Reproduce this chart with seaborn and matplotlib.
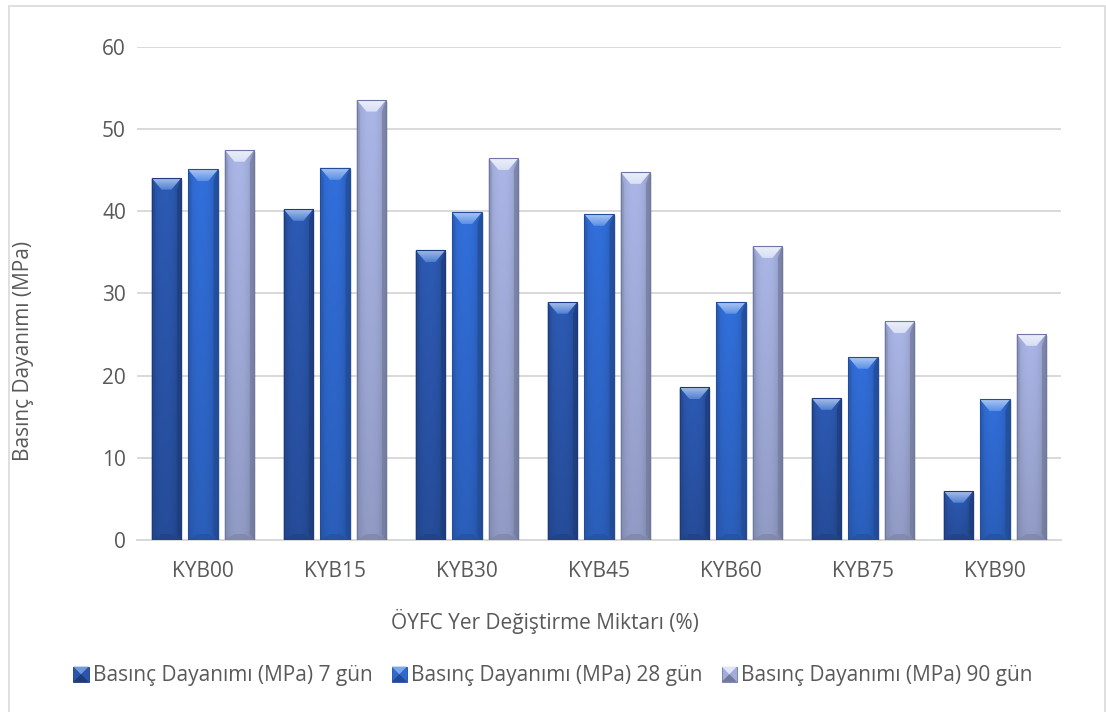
import numpy as np
import pandas as pd
import matplotlib
matplotlib.use("Agg")
import matplotlib.pyplot as plt
import seaborn as sns
from matplotlib.patches import Polygon, Rectangle
from matplotlib.legend_handler import HandlerBase
from matplotlib.colors import to_rgb

# ---- data -------------------------------------------------------------
categories = ["KYB00", "KYB15", "KYB30", "KYB45", "KYB60", "KYB75", "KYB90"]
series_names = [
    "Basınç Dayanımı (MPa) 7 gün",
    "Basınç Dayanımı (MPa) 28 gün",
    "Basınç Dayanımı (MPa) 90 gün",
]
strength_7 = [44.1, 40.3, 35.3, 29.0, 18.6, 17.3, 6.0]
strength_28 = [45.1, 45.3, 39.9, 39.7, 29.0, 22.3, 17.1]
strength_90 = [47.5, 53.6, 46.5, 44.8, 35.8, 26.6, 25.1]
y_ticks = [0, 10, 20, 30, 40, 50, 60]

df = pd.DataFrame({
    "Karışım": categories * 3,
    "Seri": np.repeat(series_names, len(categories)),
    "Değer": strength_7 + strength_28 + strength_90,
})

# ---- style ------------------------------------------------------------
sns.set_style("white")
plt.rcParams["font.family"] = ["Open Sans", "DejaVu Sans"]
TEXT = "#595959"
GRID = "#d9d9d9"
FS = 15

body_colors = ["#2a55aa", "#2f69cf", "#a1acda"]
top_colors = ["#5080d2", "#5a90e6", "#d8dff5"]
edge_colors = ["#1d3b7c", "#204d9e", "#6d77a3"]

W, H = 1106, 712
fig = plt.figure(figsize=(W / 100, H / 100), dpi=100)
ax = fig.add_axes([137 / W, (H - 540) / H, (1061 - 137) / W, (540 - 47) / H])

sns.barplot(data=df, x="Karışım", y="Değer", hue="Seri", order=categories,
            hue_order=series_names, palette=body_colors, width=0.83, gap=0.18,
            ax=ax, legend=False, zorder=3)

ax.set_xlim(-0.5, len(categories) - 0.5)
ax.set_ylim(0, 60)
ax.set_autoscale_on(False)

# pixel size in data units, used for the bevel geometry
p0 = ax.transData.transform((0, 0))
p1 = ax.transData.transform((1, 1))
px_x = 1.0 / (p1[0] - p0[0])
px_y = 1.0 / (p1[1] - p0[1])


def shade(c, f):
    r = np.array(to_rgb(c))
    if f >= 1:
        return tuple(r + (1 - r) * (f - 1))
    return tuple(r * f)


def gradient_image(base, nx=40, ny=200):
    xs = np.linspace(0, 1, nx)
    ys = np.linspace(0, 1, ny)[:, None]  # 0 top .. 1 bottom
    hor = 1 - 0.22 * (np.abs(xs - 0.45) / 0.55) ** 2.5
    ver = 1.06 - 0.16 * ys
    rgb = np.array(to_rgb(base))
    img = rgb[None, None, :] * (hor[None, :] * ver)[:, :, None]
    return np.clip(img, 0, 1)


def top_image(light, ny=30):
    t = np.linspace(0, 1, ny)[:, None, None]  # 0 top .. 1 bottom
    a = np.array(shade(light, 1.5))
    b = np.array(to_rgb(light))
    img = a[None, None, :] * (1 - t) + b[None, None, :] * t
    return np.repeat(np.clip(img, 0, 1), 4, axis=1)


for k, container in enumerate(ax.containers):
    body = body_colors[k]
    for bar in container.patches:
        x0 = bar.get_x()
        w = bar.get_width()
        h = bar.get_height()
        x1 = x0 + w
        bar.set_facecolor("none")
        bar.set_edgecolor("none")

        # soft drop shadow
        ax.add_patch(Rectangle((x0 + 2 * px_x, -2 * px_y), w, h, facecolor="black",
                               alpha=0.10, edgecolor="none", zorder=2.5))

        # shaded body
        im = ax.imshow(gradient_image(body), extent=[x0, x1, 0, h], aspect="auto",
                       interpolation="bilinear", zorder=3.1)
        im.set_clip_path(bar)

        dx = 10 * px_x
        dy = 12 * px_y
        dy_b = min(6 * px_y, h / 3)
        # side bevels
        ax.add_patch(Polygon([(x1, h), (x1 - dx * 0.45, h - dy), (x1 - dx * 0.45, dy_b), (x1, 0)],
                             closed=True, facecolor=shade(body, 0.72), edgecolor="none",
                             alpha=0.7, zorder=3.2))
        ax.add_patch(Polygon([(x0, h), (x0 + dx * 0.35, h - dy), (x0 + dx * 0.35, dy_b), (x0, 0)],
                             closed=True, facecolor=shade(body, 0.85), edgecolor="none",
                             alpha=0.6, zorder=3.2))
        # bottom bevel
        ax.add_patch(Polygon([(x0, 0), (x1, 0), (x1 - dx, dy_b), (x0 + dx, dy_b)],
                             closed=True, facecolor=shade(body, 0.78), edgecolor="none",
                             alpha=0.8, zorder=3.25))
        # top bevel with its own light gradient
        top = Polygon([(x0, h), (x1, h), (x1 - dx, h - dy), (x0 + dx, h - dy)],
                      closed=True, facecolor="none", edgecolor="none", zorder=3.3)
        ax.add_patch(top)
        tim = ax.imshow(top_image(top_colors[k]), extent=[x0, x1, h - dy, h],
                        aspect="auto", interpolation="bilinear", zorder=3.3)
        tim.set_clip_path(top)
        # outline
        ax.add_patch(Rectangle((x0, 0), w, h, fill=False, edgecolor=edge_colors[k],
                               linewidth=0.8, zorder=3.5))

# ---- axes cosmetics -----------------------------------------------------
ax.set_yticks(y_ticks)
ax.yaxis.grid(True, color=GRID, linewidth=1.4)
ax.set_axisbelow(True)
for side in ["left", "right", "top"]:
    ax.spines[side].set_visible(False)
ax.spines["bottom"].set_color(GRID)
ax.spines["bottom"].set_linewidth(1.4)
ax.spines["bottom"].set_zorder(2)
ax.tick_params(axis="both", length=0, labelsize=FS, labelcolor=TEXT)
ax.tick_params(axis="y", pad=8)
ax.tick_params(axis="x", pad=15)
ax.set_xlabel("ÖYFC Yer Değiştirme Miktarı (%)", fontsize=FS, color=TEXT)
ax.set_ylabel("Basınç Dayanımı (MPa)", fontsize=FS, color=TEXT)
ax.xaxis.set_label_coords(0.4416, -0.140)
ax.yaxis.set_label_coords(-0.1110, 0.383)


# ---- legend with bevelled squares --------------------------------------
class BevelHandler(HandlerBase):
    def __init__(self, k):
        super().__init__()
        self.k = k

    def create_artists(self, legend, orig_handle, xdescent, ydescent, width, height,
                       fontsize, trans):
        s = height * 1.0
        x0 = -xdescent + (width - s) / 2
        y0 = -ydescent - (s - height) / 2
        b = s * 0.5
        c = body_colors[self.k]
        arts = [
            Rectangle((x0, y0), s, s, facecolor=c, edgecolor=edge_colors[self.k], lw=0.6),
            Polygon([(x0, y0 + s), (x0 + s, y0 + s), (x0 + s / 2, y0 + s - b)],
                    facecolor=shade(top_colors[self.k], 1.2), edgecolor="none"),
            Polygon([(x0, y0), (x0 + s, y0), (x0 + s / 2, y0 + b)],
                    facecolor=shade(c, 0.7), edgecolor="none"),
        ]
        for a in arts:
            a.set_transform(trans)
        return arts


handles = [Rectangle((0, 0), 1, 1) for _ in series_names]
fig.legend(handles, series_names, loc="center", bbox_to_anchor=(0.5, (H - 676) / H),
           ncol=3, frameon=False, fontsize=FS, labelcolor=TEXT,
           handler_map={h: BevelHandler(i) for i, h in enumerate(handles)},
           handlelength=0.75, handleheight=0.75, handletextpad=0.2, columnspacing=0.9)

# chart frame
fig.add_artist(Rectangle((9 / W, -0.01), (1105 - 9) / W, (H - 6) / H + 0.01,
                         transform=fig.transFigure, fill=False, edgecolor=GRID,
                         linewidth=1.2))

fig.savefig("out.png", dpi=100)
